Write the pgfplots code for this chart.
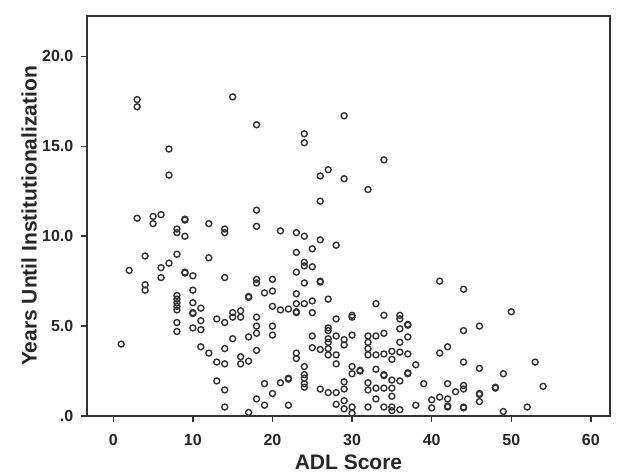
\documentclass[border=0pt]{standalone}
\usepackage{pgfplots}
\pgfplotsset{compat=1.18}
\usepackage{fontspec}
\setmainfont{Liberation Sans}
\begin{document}
\begin{tikzpicture}
\begin{axis}[
  name=ax,
  scale only axis,
  width=261.5pt, height=200pt,
  xmin=-3.3, xmax=62.4, ymin=0, ymax=22.25,
  xtick={0,10,...,60},
  ytick={0,5,10,15,20},
  yticklabels={.0,5.0,10.0,15.0,20.0},
  tick align=outside,
  xtick pos=bottom, ytick pos=left,
  major tick length=3pt,
  axis line style={line width=0.8pt, color=black!80},
  every tick/.style={line width=0.75pt, color=black!80},
  tick label style={font=\fontsize{8}{9}\selectfont\bfseries, color=black!85},
  /pgf/number format/assume math mode=true,
  xticklabel style={yshift=-2.5pt},
  yticklabel style={xshift=-0.3pt},
  label style={font=\fontsize{10.5}{12}\selectfont\bfseries, color=black!85},
  xlabel={ADL Score},
  ylabel={Years Until Institutionalization},
  xlabel style={at={([yshift=-23pt]axis description cs:0.5,0)}, anchor=center},
  ylabel style={at={([xshift=-29pt]axis description cs:0,0.5)}, anchor=center},
  clip=false,
]
\addplot[only marks, mark=o, mark size=1.5pt, mark options={line width=0.7pt, draw=black!80}] table {
x y
1 4.0
2 8.1
3 17.6
3 17.2
3 11.0
4 8.9
4 7.3
4 7.0
5 11.1
5 10.7
6 11.2
6 8.25
6 7.7
7 14.85
7 13.4
7 8.5
8 10.4
8 10.2
8 9.0
8 6.7
8 6.5
8 6.3
8 6.1
8 5.9
8 5.2
8 4.7
9 10.9
9 10.95
9 10.0
9 8.0
9 7.95
10 7.8
10 7.0
10 6.3
10 5.7
10 5.75
10 4.9
11 6.0
11 5.3
11 4.8
11 3.85
12 10.7
12 8.8
12 3.5
13 5.4
13 3.0
13 1.95
14 10.4
14 10.2
14 7.7
14 5.2
14 3.75
14 2.9
14 1.45
14 0.5
15 17.75
15 5.75
15 5.5
15 4.3
16 5.85
16 5.5
16 3.3
16 2.9
17 6.6
17 6.65
17 4.4
17 3.05
17 0.2
18 16.2
18 11.45
18 10.55
18 7.6
18 7.4
18 5.5
18 5.0
18 4.6
18 3.65
18 0.95
19 6.85
19 1.8
19 0.6
20 7.6
20 6.95
20 6.1
20 5.0
20 4.5
20 1.25
21 10.3
21 5.9
21 1.85
22 5.95
22 2.05
22 2.1
22 0.6
23 10.2
23 9.1
23 8.0
23 6.8
23 6.25
23 5.75
23 5.8
23 3.5
23 3.2
24 15.7
24 15.2
24 10.0
24 8.55
24 8.35
24 7.4
24 6.25
24 2.75
24 2.3
24 2.1
24 1.8
24 1.6
25 9.3
25 8.3
25 6.4
25 5.75
25 4.45
25 3.8
26 13.35
26 11.95
26 9.8
26 7.45
26 7.5
26 3.7
26 1.5
27 13.7
27 6.5
27 4.9
27 4.75
27 4.3
27 4.1
27 3.75
27 3.4
27 1.3
28 9.5
28 5.4
28 4.45
28 3.4
28 2.9
28 1.3
28 0.65
29 16.7
29 13.2
29 4.25
29 3.95
29 1.9
29 1.5
29 0.85
29 0.4
30 5.6
30 5.5
30 4.5
30 2.75
30 2.35
30 0.5
30 0.15
31 2.5
31 2.55
32 12.6
32 4.45
32 4.1
32 3.75
32 3.4
32 1.85
32 1.45
32 0.5
33 6.25
33 4.45
33 3.4
33 2.6
33 1.55
33 0.95
34 14.25
34 5.6
34 4.6
34 3.45
34 2.25
34 2.3
34 1.55
34 0.5
35 3.6
35 3.15
35 2.0
35 1.55
35 1.1
35 0.5
35 0.3
36 5.6
36 5.4
36 4.85
36 4.1
36 3.55
36 1.95
36 0.35
37 5.05
37 5.1
37 4.4
37 3.45
37 2.35
37 2.4
38 2.85
38 0.6
39 1.8
40 0.9
40 0.45
41 7.5
41 3.5
41 1.05
42 3.85
42 1.8
42 0.95
42 0.5
42 0.55
43 1.35
44 7.05
44 4.75
44 3.0
44 1.7
44 1.5
44 0.45
44 0.5
46 5.0
46 2.65
46 1.2
46 1.25
46 0.8
48 1.55
48 1.6
49 2.35
49 0.25
50 5.8
52 0.5
53 3.0
54 1.65
};
\end{axis}
\pgfresetboundingbox
\path (ax.south west)+(-43.5pt,-28pt) coordinate (bl);
\path (ax.north east)+(4pt,8pt) coordinate (tr);
\path[use as bounding box] (bl) rectangle (tr);
\end{tikzpicture}
\end{document}
